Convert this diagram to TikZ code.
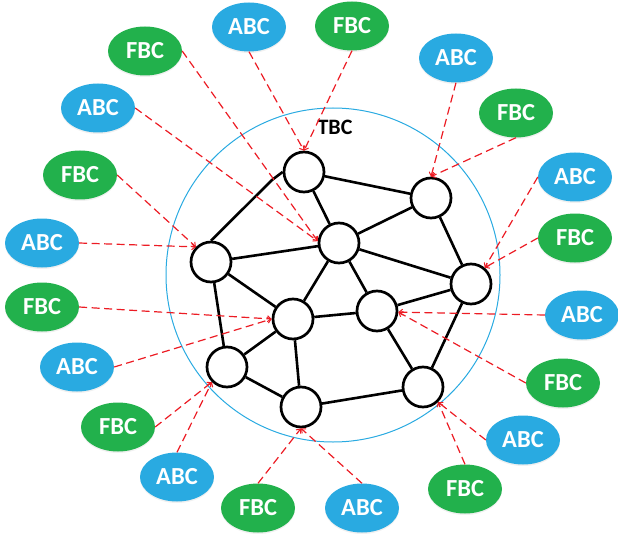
\documentclass[tikz,border=0pt]{standalone}
\usepackage{fontspec}
\setmainfont{Carlito}
\usetikzlibrary{arrows.meta,shapes.geometric,shadows,backgrounds}
\definecolor{abcblue}{HTML}{29AAE1}
\definecolor{fbcgreen}{HTML}{22B14C}
\definecolor{linkred}{HTML}{EC1C24}
\begin{document}
\begin{tikzpicture}[x=1pt,y=-1pt,
  peer/.style={circle,draw=black,line width=2.7pt,fill=white,minimum size=40pt,inner sep=0pt},
  tag/.style={ellipse,minimum width=74pt,minimum height=49pt,inner sep=0pt,
    text=white,font=\fontsize{24.5}{26}\selectfont\bfseries,
    drop shadow={opacity=0.12,shadow xshift=0pt,shadow yshift=-1.5pt}},
  abc/.style={tag,fill=abcblue},
  fbc/.style={tag,fill=fbcgreen},
  edge/.style={line width=2.6pt,black},
  link/.style={linkred,line width=1.2pt,dash pattern=on 8pt off 4.5pt,
    -{Straight Barb[length=3.5pt,width=6pt,line width=1pt]}}]
\useasboundingbox (0,0) rectangle (618,540);

% cluster boundary
\node[circle,draw=abcblue,line width=1pt,minimum size=334pt,inner sep=0pt] (ring) at (333,275) {};
\node[font=\fontsize{22}{24}\selectfont\bfseries] (tbc) at (335,127) {TBC};

% network nodes
\node[peer] (n1) at (304,172) {};
\node[peer] (n2) at (431,198) {};
\node[peer] (n3) at (339,243) {};
\node[peer] (n4) at (211,262) {};
\node[peer] (n5) at (471,284) {};
\node[peer] (n6) at (293,319) {};
\node[peer] (n7) at (377,311) {};
\node[peer] (n8) at (227,367) {};
\node[peer] (n9) at (423,387) {};
\node[peer] (n10) at (301,407) {};

% network links, kept beneath the nodes
\begin{pgfonlayer}{background}
\coordinate (kink) at (272,180);
\draw[edge] (n4.north) -- (kink) -- (n1.west);
\draw[edge] (n1) -- (n2);
\draw[edge] (n1) -- (n3);
\draw[edge] (n2) -- (n3);
\draw[edge] (n2) -- (n5);
\draw[edge] (n3) -- (n4);
\draw[edge] (n3) -- (n5);
\draw[edge] (n3) -- (n6);
\draw[edge] (n3) -- (n7);
\draw[edge] (n4) -- (n6);
\draw[edge] (n4) -- (n8);
\draw[edge] (n5) -- (n7);
\draw[edge] (n5) -- (n9);
\draw[edge] (n6) -- (n7);
\draw[edge] (n6) -- (n8);
\draw[edge] (n6) -- (n10);
\draw[edge] (n7) -- (n9);
\draw[edge] (n8) -- (n10);
\draw[edge] (n10) -- (n9);
\end{pgfonlayer}

% outer clients
\node[abc] (a1) at (249,27) {ABC};
\node[fbc] (f1) at (352,26) {FBC};
\node[fbc] (f2) at (145,51) {FBC};
\node[abc] (a2) at (98,108) {ABC};
\node[fbc] (f3) at (80,175) {FBC};
\node[abc] (a3) at (42,243) {ABC};
\node[fbc] (f4) at (42,307) {FBC};
\node[abc] (a4) at (77,367) {ABC};
\node[fbc] (f5) at (118,427) {FBC};
\node[abc] (a5) at (177,477) {ABC};
\node[fbc] (f6) at (258,508) {FBC};
\node[abc] (a6) at (362,508) {ABC};
\node[fbc] (f7) at (465,489) {FBC};
\node[abc] (a7) at (523,440) {ABC};
\node[fbc] (f8) at (563,383) {FBC};
\node[abc] (a8) at (582,315) {ABC};
\node[fbc] (f9) at (575,238) {FBC};
\node[abc] (a9) at (575,177) {ABC};
\node[fbc] (f10) at (516,113) {FBC};
\node[abc] (a10) at (456,58) {ABC};

% client attachments
\draw[link] (a1.south) -- (n1.north);
\draw[link] (f1.south) -- (n1.north);
\draw[link] (f2.east) -- (n3.175);
\draw[link] (a2.east) -- (n3.175);
\draw[link] (f3.east) -- (n4.135);
\draw[link] (a3.east) -- (n4.135);
\draw[link] (f4.east) -- (n6.west);
\draw[link] (a4.east) -- (n6.west);
\draw[link] (f5.east) -- (n8.225);
\draw[link] (a5.north) -- (n8.225);
\draw[link] (f6.north) -- (n10.south);
\draw[link] (a6.north) -- (n10.south);
\draw[link] (f7.north) -- (n9.315);
\draw[link] (a7.west) -- (n9.315);
\draw[link] (f8.west) -- (n7.357);
\draw[link] (a8.west) -- (n7.357);
\draw[link] (f9.west) -- (n5.50);
\draw[link] (a9.west) -- (n5.50);
\draw[link] (f10.south) -- (n2.north);
\draw[link] (a10.south) -- (n2.north);
\end{tikzpicture}
\end{document}
